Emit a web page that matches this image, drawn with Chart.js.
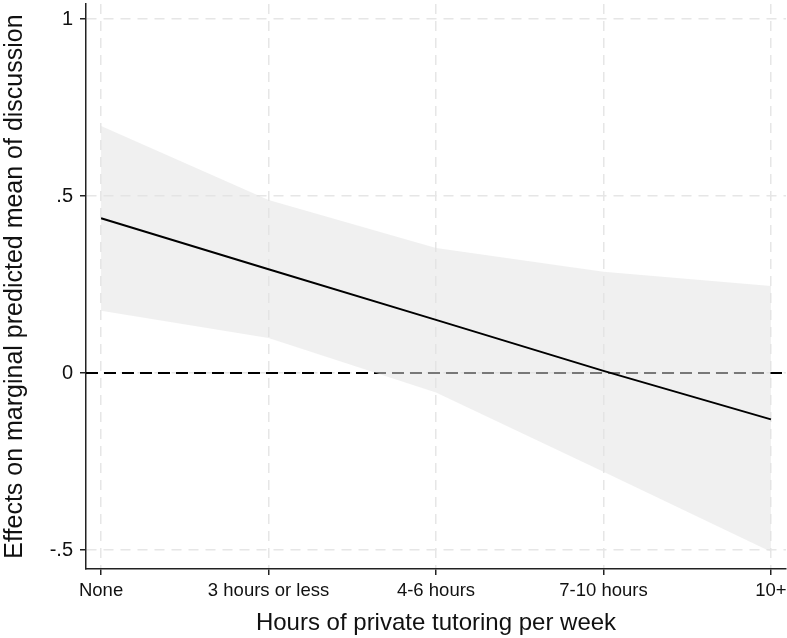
<!DOCTYPE html>
<html>
<head>
<meta charset="utf-8">
<script src="https://cdn.jsdelivr.net/npm/chart.js@4.4.1/dist/chart.umd.min.js"></script>
<style>
  html, body { margin: 0; padding: 0; background: #fff; }
  #wrap { width: 787px; height: 638px; }
</style>
</head>
<body>
<div id="wrap"><canvas id="margins"></canvas></div>
<script>
// categories and estimates
const categories = ['None', '3 hours or less', '4-6 hours', '7-10 hours', '10+'];
const estimate = [0.437, 0.293, 0.150, 0.006, -0.131];
const upperCI = [0.698, 0.489, 0.353, 0.286, 0.246];
const lowerCI = [0.176, 0.099, -0.055, -0.279, -0.505];
const yTickValues = [-0.5, 0, 0.5, 1];
const yTickLabels = ['-.5', '0', '.5', '1'];

const FONT = '"Liberation Sans", Arial, Helvetica, sans-serif';

function points(arr) {
    return arr.map((v, i) => ({ x: i, y: v }));
}

// dashed reference line at zero, drawn under the band
const zeroLine = {
    id: 'zeroLine',
    beforeDatasetsDraw(chart) {
        const { ctx, chartArea } = chart;
        const y = chart.scales.y.getPixelForValue(0);
        ctx.save();
        ctx.strokeStyle = '#000';
        ctx.lineWidth = 2;
        ctx.setLineDash([12, 6]);
        ctx.beginPath();
        ctx.moveTo(chartArea.left, y);
        ctx.lineTo(chartArea.right + 1, y);
        ctx.stroke();
        ctx.restore();
    }
};

document.addEventListener('DOMContentLoaded', function () {
    const ctx = document.getElementById('margins');
    Chart.defaults.font.family = FONT;
    Chart.defaults.color = '#111';

    new Chart(ctx, {
        type: 'line',
        data: {
            datasets: [
                {
                    label: 'upper',
                    data: points(upperCI),
                    borderWidth: 0,
                    pointRadius: 0,
                    backgroundColor: 'rgba(226,226,226,0.53)',
                    fill: '+1',
                    order: 2
                },
                {
                    label: 'lower',
                    data: points(lowerCI),
                    borderWidth: 0,
                    pointRadius: 0,
                    fill: false,
                    order: 2
                },
                {
                    label: 'estimate',
                    data: points(estimate),
                    borderColor: '#000',
                    borderWidth: 2,
                    pointRadius: 0,
                    fill: false,
                    tension: 0,
                    order: 0
                }
            ]
        },
        options: {
            responsive: true,
            maintainAspectRatio: false,
            animation: false,
            layout: { padding: { top: 4, right: 1, left: 0, bottom: 0 } },
            plugins: {
                legend: { display: false },
                tooltip: { enabled: false }
            },
            scales: {
                x: {
                    type: 'linear',
                    min: -0.09,
                    max: 4.09,
                    afterBuildTicks: s => { s.ticks = categories.map((c, i) => ({ value: i })); },
                    afterFit: s => {
                        s.height = 69;
                        s.paddingLeft = 0;
                        s.paddingRight = 0;
                    },
                    grid: {
                        color: '#e6e6e6',
                        lineWidth: 1.5,
                        drawTicks: true,
                        tickLength: 6,
                        tickColor: '#222',
                        tickWidth: 1.5,
                        tickBorderDash: []
                    },
                    border: { display: true, color: '#222', width: 1.5, dash: [10, 7] },
                    ticks: {
                        autoSkip: false,
                        maxRotation: 0,
                        padding: 5,
                        font: { size: 18.5 },
                        color: '#111',
                        callback: v => categories[v]
                    },
                    title: {
                        display: true,
                        text: 'Hours of private tutoring per week',
                        font: { size: 24 },
                        color: '#111',
                        padding: { top: 6, bottom: 0 }
                    }
                },
                y: {
                    min: -0.5537,
                    max: 1.0424,
                    afterBuildTicks: s => { s.ticks = yTickValues.map(v => ({ value: v })); },
                    afterFit: s => {
                        s.width = 86;
                        s.paddingTop = 0;
                        s.paddingBottom = 0;
                    },
                    grid: {
                        color: '#e6e6e6',
                        lineWidth: 1.5,
                        drawTicks: true,
                        tickLength: 6,
                        tickColor: '#222',
                        tickWidth: 1.5,
                        tickBorderDash: []
                    },
                    border: { display: true, color: '#222', width: 1.5, dash: [10, 7] },
                    ticks: {
                        padding: 7,
                        font: { size: 20 },
                        color: '#111',
                        callback: v => yTickLabels[yTickValues.indexOf(v)]
                    },
                    title: {
                        display: true,
                        text: 'Effects on marginal predicted mean of discussion',
                        font: { size: 25 },
                        color: '#111',
                        padding: { top: 0, bottom: 0 }
                    }
                }
            }
        },
        plugins: [zeroLine]
    });
});
</script>
</body>
</html>
